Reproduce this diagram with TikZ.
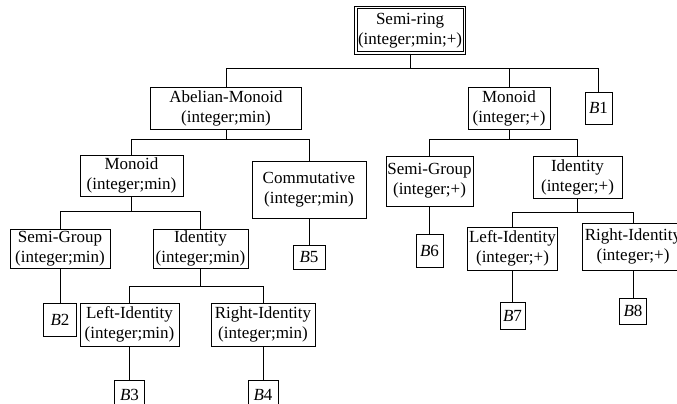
\documentclass[tikz,border=0pt]{standalone}
\usepackage{fontspec}
\setmainfont{Liberation Serif}
\newcommand\myfs{\fontsize{17}{20}\selectfont}
\begin{document}
\begin{tikzpicture}[x=1pt,y=-1pt,
  box/.style={draw, line width=1pt, inner sep=0pt, align=center, font=\myfs},
  sz/.style 2 args={minimum width=#1pt, minimum height=#2pt},
  conn/.style={line width=1pt}]
\useasboundingbox (0,0) rectangle (677,404);
\fill[white] (0,0) rectangle (677,404);
\clip (0,0) rectangle (677,404);
% nodes
\node[box, double, double distance=1.6pt, sz={108.6}{45.6}] (root) at (410,30.5) {Semi-ring\\(integer;min;+)};
\node[box, sz={151}{42}] (abel) at (226,108) {Abelian-Monoid\\(integer;min)};
\node[box, sz={82}{42}] (mon2) at (509,108) {Monoid\\(integer;+)};
\node[box, sz={27}{32}] (b1) at (598.5,108) {\textit{B}1};
\node[box, sz={103}{41}] (mon1) at (131.5,175.5) {Monoid\\(integer;min)};
\node[box, sz={114}{57}] (comm) at (309,189.5) {Commutative\\(integer;min)};
\node[box, sz={87}{50}] (sg2) at (429.5,181) {Semi-Group\\(integer;+)};
\node[box, sz={89}{42}] (id2) at (577.5,177) {Identity\\(integer;+)};
\node[box, sz={32}{24}] (b5) at (309,257.5) {\textit{B}5};
\node[box, sz={27}{33}] (b6) at (429.5,250.5) {\textit{B}6};
\node[box, sz={100}{39}] (sg1) at (60,248.5) {Semi-Group\\(integer;min)};
\node[box, sz={95}{39}] (id1) at (200.5,248.5) {Identity\\(integer;min)};
\node[box, sz={33}{33}] (b2) at (60,319.5) {\textit{B}2};
\node[box, sz={99}{43}] (li1) at (129.5,324.5) {Left-Identity\\(integer;min)};
\node[box, sz={104}{43}] (ri1) at (263,324.5) {Right-Identity\\(integer;min)};
\node[box, sz={30}{30}] (b3) at (129.5,395) {\textit{B}3};
\node[box, sz={30}{30}] (b4) at (263,395) {\textit{B}4};
\node[box, sz={90}{43}] (li2) at (512.5,248.5) {Left-Identity\\(integer;+)};
\node[box, sz={102}{47}] (ri2) at (633,246.5) {Right-Identity\\(integer;+)};
\node[box, sz={25}{27}] (b7) at (512.5,315.5) {\textit{B}7};
\node[box, sz={27}{26}] (b8) at (633,311) {\textit{B}8};
% connectors
\draw[conn] (root.south) -- ++(0,15) -| (abel.north);
\draw[conn] (root.south) -- ++(0,15) -| (mon2.north);
\draw[conn] (root.south) -- ++(0,15) -| (b1.north);
\draw[conn] (abel.south) -- ++(0,10) -| (mon1.north);
\draw[conn] (abel.south) -- ++(0,10) -| (comm.north);
\draw[conn] (mon2.south) -- ++(0,10) -| (sg2.north);
\draw[conn] (mon2.south) -- ++(0,10) -| (id2.north);
\draw[conn] (mon1.south) -- ++(0,15) -| (sg1.north);
\draw[conn] (mon1.south) -- ++(0,15) -| (id1.north);
\draw[conn] (id1.south) -- ++(0,18) -| (li1.north);
\draw[conn] (id1.south) -- ++(0,18) -| (ri1.north);
\draw[conn] (id2.south) -- ++(0,14) -| (li2.north);
\draw[conn] (id2.south) -- ++(0,14) -| (ri2.north);
\draw[conn] (sg1.south) -- (b2.north);
\draw[conn] (li1.south) -- (b3.north);
\draw[conn] (ri1.south) -- (b4.north);
\draw[conn] (comm.south) -- (b5.north);
\draw[conn] (sg2.south) -- (b6.north);
\draw[conn] (li2.south) -- (b7.north);
\draw[conn] (ri2.south) -- (b8.north);
\end{tikzpicture}
\end{document}
